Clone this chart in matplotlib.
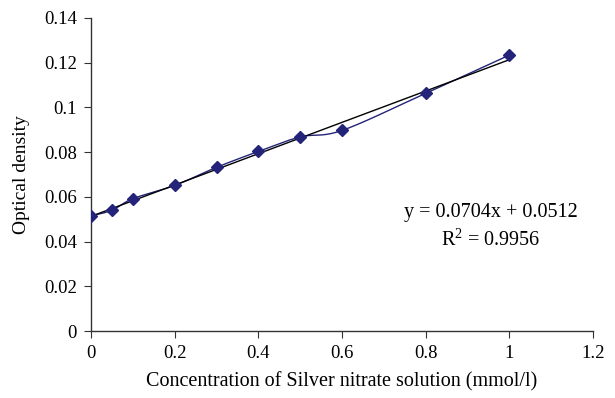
import numpy as np
import matplotlib
matplotlib.use("Agg")
import matplotlib.pyplot as plt

conc = [0, 0.05, 0.1, 0.2, 0.3, 0.4, 0.5, 0.6, 0.8, 1.0]
od = [0.0515, 0.0540, 0.0592, 0.0651, 0.0732, 0.0803, 0.0868, 0.0897, 0.1063, 0.1234]
xticks = [0, 0.2, 0.4, 0.6, 0.8, 1, 1.2]
xticklabels = ["0", "0.2", "0.4", "0.6", "0.8", "1", "1.2"]
yticks = [0, 0.02, 0.04, 0.06, 0.08, 0.1, 0.12, 0.14]
yticklabels = ["0", "0.02", "0.04", "0.06", "0.08", "0.1", "0.12", "0.14"]

plt.rcParams['font.family'] = ['Liberation Serif', 'DejaVu Serif']
plt.rcParams['mathtext.fontset'] = 'custom'
plt.rcParams['mathtext.rm'] = 'Liberation Serif'
color = '#23237a'

def catmull_rom(x, y, n=20):
    x = np.asarray(x, float); y = np.asarray(y, float)
    px = np.concatenate([[2*x[0]-x[1]], x, [2*x[-1]-x[-2]]])
    py = np.concatenate([[2*y[0]-y[1]], y, [2*y[-1]-y[-2]]])
    xs, ys = [], []
    t = np.linspace(0, 1, n)
    for i in range(1, len(px)-2):
        p0, p1, p2, p3 = [np.array([px[j], py[j]]) for j in range(i-1, i+3)]
        for tt in t:
            pt = 0.5*((2*p1) + (-p0+p2)*tt + (2*p0-5*p1+4*p2-p3)*tt**2 + (-p0+3*p1-3*p2+p3)*tt**3)
            xs.append(pt[0]); ys.append(pt[1])
    return np.array(xs), np.array(ys)

fig = plt.figure(figsize=(6.15, 3.98), dpi=100)
ax = fig.add_axes([91/615, 1-331/398, (593-91)/615, (331-18)/398])

sx, sy = catmull_rom(conc, od)
ax.plot(sx, sy, color=color, lw=1.0, zorder=2)
ax.plot(conc, od, linestyle='none', marker='D', ms=6.5, color=color, zorder=3)

m, b = np.polyfit(conc, od, 1)
fx = np.array([conc[0], conc[-1]])
ax.plot(fx, m*fx + b, color='black', lw=1.0, zorder=2.5)

ax.set_xlim(0, 1.2)
ax.set_ylim(0, 0.14)
ax.set_xticks(xticks)
ax.set_xticklabels(xticklabels)
ax.set_yticks(yticks)
ax.set_yticklabels(yticklabels)
ax.spines['top'].set_visible(False)
ax.spines['right'].set_visible(False)
for s in ['left', 'bottom']:
    ax.spines[s].set_color('#333333')
    ax.spines[s].set_linewidth(1.0)
ax.tick_params(direction='out', length=5, color='#333333', labelsize=13.5, pad=5)
ax.set_xlabel('Concentration of Silver nitrate solution (mmol/l)', fontsize=14.5, labelpad=7)
ax.set_ylabel('Optical density', fontsize=14, labelpad=10)

ax.text(0.955, 0.0528, 'y = 0.0704x + 0.0512', fontsize=14.5, ha='center', va='center')
ax.text(0.955, 0.0407, 'R$^2$ = 0.9956', fontsize=14.5, ha='center', va='center')

fig.savefig('out.png', dpi=100)
